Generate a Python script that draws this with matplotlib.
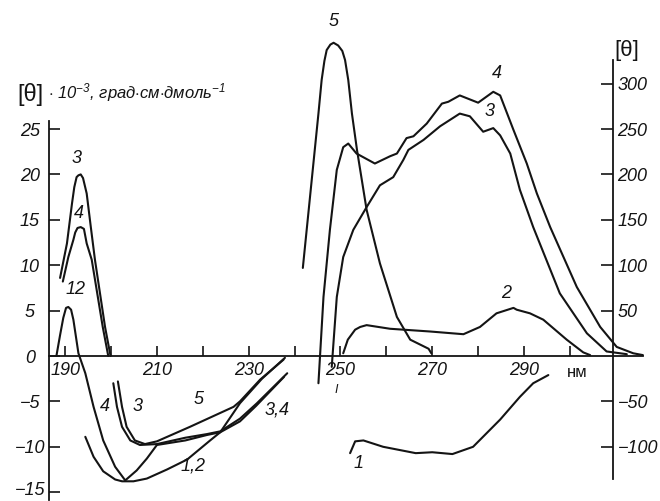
import matplotlib
matplotlib.use('Agg')
import matplotlib.pyplot as plt
from matplotlib.transforms import ScaledTranslation

plt.rcParams['font.family'] = ['Liberation Sans', 'DejaVu Sans']
plt.rcParams['font.style'] = 'italic'
plt.rcParams['mathtext.fontset'] = 'custom'
plt.rcParams['mathtext.rm'] = 'Liberation Sans'
plt.rcParams['mathtext.it'] = 'Liberation Sans:italic'

INK = '#141414'

# far-UV part, [θ]·10^-3 (left scale)
left3_nm = [188.9, 190.4, 191.5, 192.0, 192.5, 192.9, 193.4, 193.9, 194.7, 195.6, 196.5,
            197.6, 198.7, 199.9]
left3_val = [8.6, 12.4, 16.8, 18.6, 19.7, 19.9, 20.0, 19.6, 17.9, 14.2, 10.6,
             6.9, 3.2, 0.0]

left4_nm = [189.5, 190.7, 191.8, 192.2, 192.7, 193.4, 194.1, 194.7, 195.8, 197.0, 198.2, 199.4]
left4_val = [8.2, 10.9, 12.8, 13.6, 14.1, 14.2, 14.0, 12.4, 10.6, 6.9, 3.2, 0.0]

left12_nm = [188.1, 188.9, 189.6, 190.2, 190.7, 191.3, 191.8, 192.9, 194.4, 196.2, 198.3,
             200.9, 203.1, 205.6, 207.8, 210.0, 216.2, 220.9, 223.8, 228.1, 231.6, 237.7]
left12_val = [0.0, 2.3, 4.2, 5.3, 5.4, 5.1, 4.0, 0.3, -1.9, -5.6, -9.3,
              -12.2, -13.7, -12.6, -11.3, -9.8, -9.3, -8.7, -8.4, -7.2, -5.5, -2.3]

left12b_nm = [194.4, 196.2, 198.3, 200.9, 202.4, 204.9, 207.8, 212.2, 216.6, 221.6, 223.8,
              228.1, 232.9, 237.9]
left12b_val = [-8.9, -11.1, -12.7, -13.6, -13.8, -13.8, -13.5, -12.5, -11.4, -9.3, -8.4,
               -5.2, -2.5, -0.2]

left5_nm = [201.5, 202.4, 203.4, 205.2, 207.4, 210.0, 217.2, 226.7, 228.1, 232.5, 237.6]
left5_val = [-2.8, -5.6, -7.8, -9.3, -9.7, -9.4, -7.8, -5.6, -5.0, -2.6, -0.4]

left3b_nm = [200.5, 201.3, 202.4, 204.2, 206.3, 210.0, 216.2, 220.9, 223.8, 228.1, 231.8, 238.4]
left3b_val = [-3.0, -5.6, -7.8, -9.3, -9.8, -9.7, -9.0, -8.6, -8.3, -6.9, -5.2, -1.9]

# near-UV part, [θ] (right scale)
right5_nm = [241.8, 243.0, 244.1, 245.2, 245.9, 246.5, 247.0, 247.8, 248.5, 249.5, 250.4,
             251.0, 251.7, 252.5, 253.6, 255.7, 258.6, 262.3, 265.2, 269.2, 269.8]
right5_val = [97, 157, 212, 267, 304, 325, 337, 343, 345, 342, 336,
              326, 304, 267, 227, 161, 102, 43, 18, 8, 3]

right4_nm = [245.2, 246.3, 247.7, 249.2, 250.6, 251.7, 253.5, 257.5, 260.8, 262.3, 264.4,
             265.9, 268.8, 272.1, 273.5, 276.0, 280.0, 283.3, 284.8, 287.7, 290.6, 292.8,
             295.7, 301.5, 306.6, 310.2, 313.8, 315.9]
right4_val = [-30, 65, 139, 205, 230, 234, 223, 212, 220, 223, 240,
              242, 256, 278, 280, 287, 279, 291, 287, 249, 212, 179,
              142, 76, 32, 10, 3, 1]

right3_nm = [248.1, 249.2, 250.6, 252.8, 255.7, 258.6, 261.5, 263.7, 264.8, 268.1, 271.7,
             276.0, 278.2, 281.1, 283.3, 284.8, 287.0, 289.1, 292.0, 297.8, 303.7, 308.0, 312.4]
right3_val = [-12, 65, 109, 139, 164, 188, 197, 216, 227, 238, 253,
              267, 264, 247, 251, 243, 223, 183, 142, 69, 25, 5, 2]

right2_nm = [250.6, 251.6, 253.2, 254.3, 255.7, 260.8, 269.5, 276.8, 280.4, 284.0, 287.7,
             288.4, 291.3, 294.2, 299.3, 302.9, 304.4]
right2_val = [3, 18, 29, 32, 34, 30, 27, 24, 32, 47, 53,
              51, 47, 40, 18, 4, 1]

right1_nm = [252.1, 253.2, 255.0, 259.3, 266.4, 270.0, 274.4, 278.9, 284.8, 289.1, 292.0, 295.3]
right1_val = [-107, -94, -93, -100, -107, -106, -108, -100, -70, -45, -30, -21]

x_ticks = [190, 200, 210, 220, 230, 240, 250, 260, 270, 280, 290, 300]
x_labels = ['190', '', '210', '', '230', '', '250', '', '270', '', '290', '']
left_ticks = [25, 20, 15, 10, 5, 0, -5, -10, -15]
left_labels = ['25', '20', '15', '10', '5', '0', '\u22125', '\u221210', '\u221215']
right_ticks = [300, 250, 200, 150, 100, 50, -50, -100]
right_labels = ['300', '250', '200', '150', '100', '50', '\u221250', '\u2212100']

fig = plt.figure(figsize=(6.6, 5.01), dpi=100)
ax = fig.add_axes([0, 0, 1, 1])
ax.patch.set_visible(False)
ax.set_xlim(175.81, 319.63)
ax.set_ylim(-15.97, 39.21)
ax2 = ax.twinx()
ax2.set_ylim(-159.7, 392.1)

lw = 1.5
for xs, ys in [(left3_nm, left3_val), (left4_nm, left4_val), (left12_nm, left12_val),
               (left12b_nm, left12b_val), (left5_nm, left5_val), (left3b_nm, left3b_val)]:
    ax.plot(xs, ys, color=INK, lw=lw, solid_capstyle='round', solid_joinstyle='round')
for xs, ys in [(right5_nm, right5_val), (right4_nm, right4_val), (right3_nm, right3_val),
               (right2_nm, right2_val), (right1_nm, right1_val)]:
    ax2.plot(xs, ys, color=INK, lw=lw, solid_capstyle='round', solid_joinstyle='round')

# spines
for s in ['top', 'right']:
    ax.spines[s].set_visible(False)
ax.spines['left'].set_position(('data', 186.56))
ax.spines['left'].set_bounds(-15.9, 25.9)
ax.spines['bottom'].set_position(('data', 0))
ax.spines['bottom'].set_bounds(186.56, 315.9)
for s in ['top', 'left', 'bottom']:
    ax2.spines[s].set_visible(False)
ax2.spines['right'].set_position(('data', 309.45))
ax2.spines['right'].set_bounds(-136, 326)
for sp in [ax.spines['left'], ax.spines['bottom'], ax2.spines['right']]:
    sp.set_linewidth(1.3)
    sp.set_color(INK)

ax.set_xticks(x_ticks, x_labels)
ax.set_yticks(left_ticks, left_labels)
ax2.set_yticks(right_ticks, right_labels)
ax.tick_params(axis='x', direction='in', length=7, width=1.2, pad=4, labelsize=13, colors=INK)
ax.tick_params(axis='y', direction='in', length=8, width=1.2, pad=14, labelsize=13, colors=INK)
ax2.tick_params(axis='y', direction='in', length=9, width=1.2, pad=3, labelsize=13, colors=INK)
for lbl in ax.get_yticklabels():
    lbl.set_horizontalalignment('center')
# the lowest label sits on the bottom edge; lift it a little
low = ax.get_yticklabels()[-1]
low.set_transform(low.get_transform() + ScaledTranslation(0, 3 / 72, fig.dpi_scale_trans))

# curve labels
tk = dict(fontsize=13, color=INK, ha='center', va='center')
ax.text(192.5, 21.8, '3', **tk)
ax.text(193.1, 15.7, '4', **tk)
ax.text(192.2, 7.3, '12', **tk)
ax.text(198.6, -5.6, '4', **tk)
ax.text(205.7, -5.6, '3', **tk)
ax.text(219.0, -4.8, '5', **tk)
ax.text(217.9, -12.1, '1,2', **tk)
ax.text(236.2, -5.9, '3,4', **tk)
ax.text(248.4, 36.8, '5', **tk)
ax.text(284.0, 31.1, '4', **tk)
ax.text(282.6, 26.9, '3', **tk)
ax.text(286.2, 6.9, '2', **tk)
ax.text(253.9, -11.8, '1', **tk)
ax.text(249.0, -3.7, 'I', fontsize=9, color=INK, ha='center', va='center')
ax.text(301.5, -1.8, 'нм', fontsize=12, style='normal', color=INK, ha='center', va='center')
ax.text(312.4, 33.7, '[θ]', fontsize=16, style='normal', color=INK, ha='center', va='center')

# left scale title: large bracketed symbol followed by the units
ax.text(179.7, 28.8, '[θ]', fontsize=17, style='normal', color=INK, ha='left', va='center')
ax.text(186.3, 29.0, r'$\cdot$ 10$^{-3}$, град$\cdot$см$\cdot$дмоль$^{-1}$',
        fontsize=12, color=INK, ha='left', va='center')

fig.savefig('out.png', dpi=100)
